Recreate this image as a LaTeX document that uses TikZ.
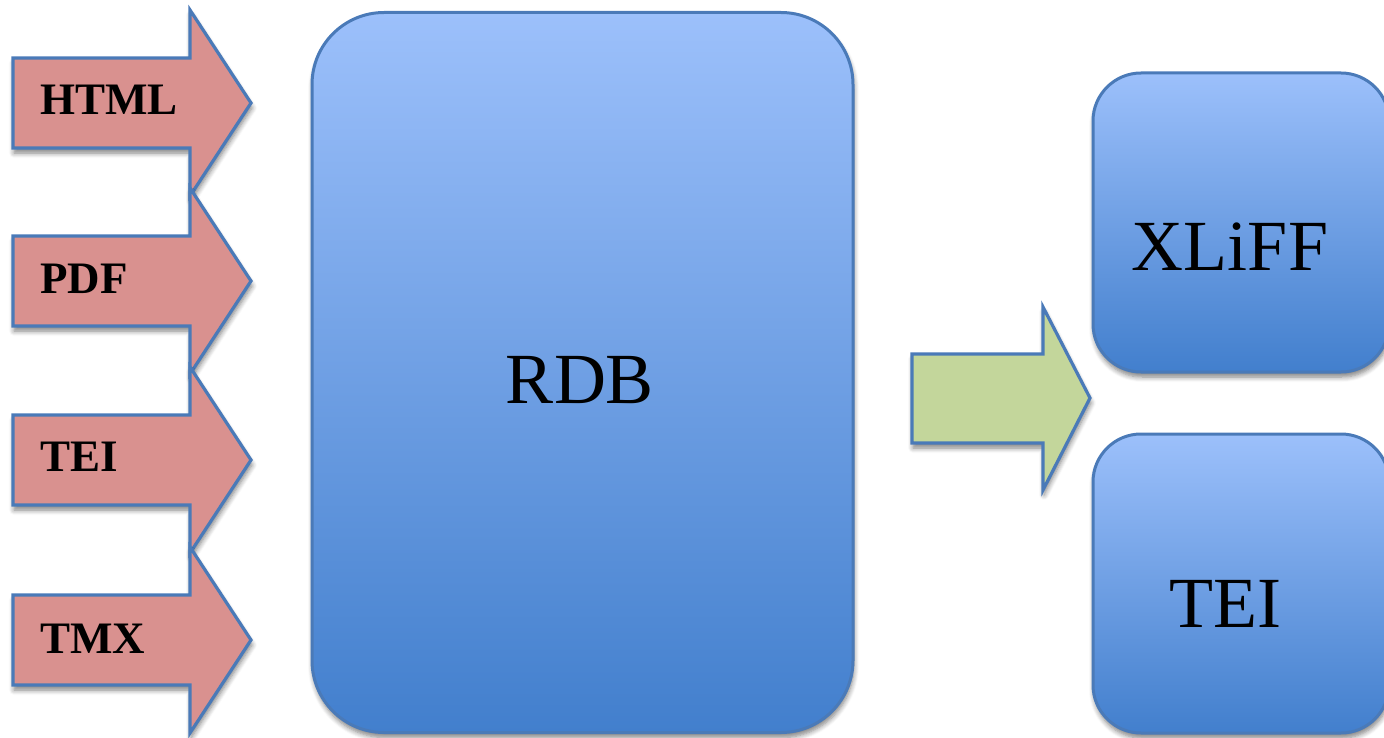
\documentclass[tikz,border=0pt]{standalone}
\usepackage{fontspec}
\setmainfont{Liberation Serif}
\usetikzlibrary{shadows.blur}

\definecolor{edgeblue}{RGB}{74,122,184}
\definecolor{inred}{RGB}{217,145,143}
\definecolor{outgreen}{RGB}{195,214,155}
\definecolor{boxtop}{RGB}{156,192,251}
\definecolor{boxmid}{RGB}{128,170,236}
\definecolor{boxbot}{RGB}{66,127,205}

\tikzset{
  softshadow/.style={blur shadow={shadow xshift=1pt, shadow yshift=-5pt,
      shadow blur radius=5pt, shadow blur steps=6, shadow opacity=50}},
  fatarrow/.style={draw=edgeblue, line width=3.2pt, line join=miter, softshadow},
  store/.style={draw=edgeblue, line width=3pt, top color=boxtop, middle color=boxmid,
      bottom color=boxbot, softshadow, inner sep=0pt},
  inlabel/.style={anchor=base west, inner sep=0pt,
      font=\fontsize{45}{50}\selectfont\bfseries},
  boxtext/.style={anchor=base, inner sep=0pt, font=\fontsize{72}{80}\selectfont}
}

\begin{document}
\begin{tikzpicture}[x=1pt, y=-1pt]
\useasboundingbox (0,0) rectangle (1384,738);
\clip (0,0) rectangle (1384,738);

% input arrows, left column
\foreach \cy in {103, 281, 460, 640} {
  \path[fatarrow, fill=inred]
    (13,\cy-45) -- (190,\cy-45) -- (190,\cy-93) -- (251,\cy)
    -- (190,\cy+93) -- (190,\cy+45) -- (13,\cy+45) -- cycle;
}
\node[inlabel] (lhtml) at (40,115) {HTML};
\node[inlabel] (lpdf)  at (40,293) {PDF};
\node[inlabel] (ltei)  at (40,471) {TEI};
\node[inlabel] (ltmx)  at (40,653) {TMX};

% central database
\node[store, rounded corners=72pt, minimum width=541pt, minimum height=720pt]
  (rdb) at (582.5,372.5) {};
\node[boxtext] (rdbtext) at (580,403) {RDB};

% output arrow
\path[fatarrow, fill=outgreen]
  (912,354) -- (1043,354) -- (1043,307) -- (1090,398)
  -- (1043,490) -- (1043,443) -- (912,443) -- cycle;

% output formats
\node[store, rounded corners=48pt, minimum width=296pt, minimum height=299pt]
  (xliff) at (1241,222.5) {};
\node[boxtext] (xlifftext) at (1230,270) {XLiFF};
\node[store, rounded corners=48pt, minimum width=296pt, minimum height=299pt]
  (teiout) at (1241,583.5) {};
\node[boxtext] (teitext) at (1225,627) {TEI};
\end{tikzpicture}
\end{document}
